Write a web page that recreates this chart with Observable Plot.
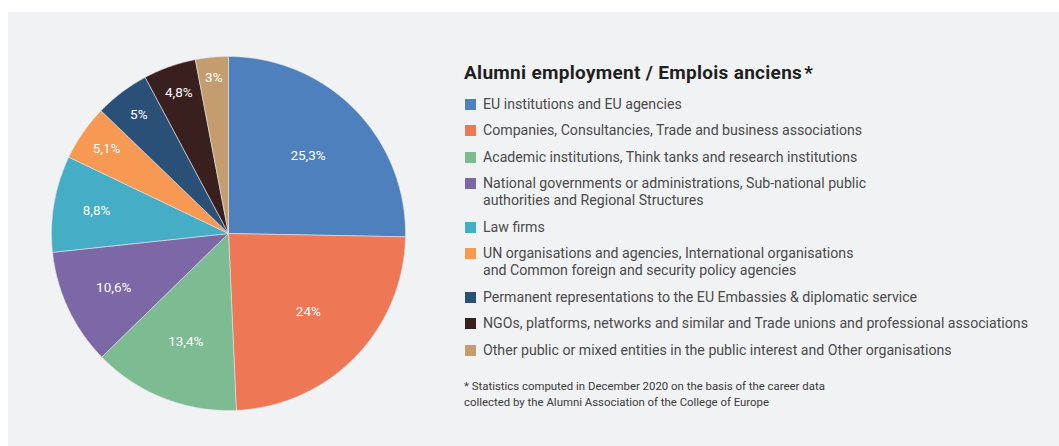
<!DOCTYPE html>
<html>
<head>
<meta charset="utf-8">
<script src="https://cdn.jsdelivr.net/npm/d3@7"></script>
<script src="https://cdn.jsdelivr.net/npm/@observablehq/plot@0.6"></script>
<style>
  html, body { margin: 0; padding: 0; background: #ffffff; }
  body { width: 1059px; height: 446px; position: relative; overflow: hidden; font-family: Roboto, "Noto Sans", sans-serif; }
  #panel { position: absolute; left: 8px; top: 12px; width: 1051px; height: 434px; background: #f1f2f4; }
  #chart { position: absolute; left: 0; top: 0; }
  #legend { position: absolute; left: 456px; top: 50px; width: 595px; }
  #legend h2 { margin: 0; font-size: 19px; letter-spacing: 0.3px; line-height: 22px; font-weight: 700; color: #1f1f1f; white-space: nowrap; }
  #legend h2 .star { margin-left: 2px; }
  .item { position: relative; padding-left: 19px; margin: 0 0 9.5px 0; font-size: 14.15px; line-height: 17px; color: #4a4a4a; white-space: pre; }
  .item:first-of-type { margin-top: 11.5px; }
  .sw { position: absolute; left: 1px; top: 3px; width: 11px; height: 11px; }
  .note { margin-top: 19px; font-size: 11.4px; line-height: 16px; color: #3a3a3a; white-space: pre; }
</style>
</head>
<body>
<div id="panel">
  <div id="chart"></div>
  <div id="legend"></div>
</div>
<script>
// ---- data ----
const categories = [
  "EU institutions and EU agencies",
  "Companies, Consultancies, Trade and business associations",
  "Academic institutions, Think tanks and research institutions",
  "National governments or administrations, Sub-national public\nauthorities and Regional Structures",
  "Law firms",
  "UN organisations and agencies, International organisations\nand Common foreign and security policy agencies",
  "Permanent representations to the EU Embassies & diplomatic service",
  "NGOs, platforms, networks and similar and Trade unions and professional associations",
  "Other public or mixed entities in the public interest and Other organisations"
];
const values = [25.3, 24, 13.4, 10.6, 8.8, 5.1, 5, 4.8, 3];
const valueLabels = ["25,3%", "24%", "13,4%", "10,6%", "8,8%", "5,1%", "5%", "4,8%", "3%"];
const colors = ["#4e80bd", "#ee7856", "#7dbb93", "#7c68a6", "#45adc5", "#f79853", "#2a5078", "#3a1f1f", "#c49c6e"];
const titleText = "Alumni employment / Emplois anciens";
const noteText = "* Statistics computed in December 2020 on the basis of the career data\ncollected by the Alumni Association of the College of Europe";

// ---- geometry via d3.pie ----
const R = 177;
const arcs = d3.pie().sort(null).value(d => d)(values);
const slicePts = [];
arcs.forEach((a, i) => {
  const steps = Math.max(2, Math.ceil((a.endAngle - a.startAngle) / 0.005));
  slicePts.push({k: i, x: 0, y: 0});
  for (let s = 0; s <= steps; s++) {
    const t = a.startAngle + (a.endAngle - a.startAngle) * s / steps;
    slicePts.push({k: i, x: R * Math.sin(t), y: -R * Math.cos(t)});
  }
  slicePts.push({k: i, x: 0, y: 0});
});
const labelPts = arcs.map((a, i) => {
  const mid = (a.startAngle + a.endAngle) / 2;
  const f = values[i] / 100;
  const rr = R * Math.max(0.63, 0.95 - 2.2 * f);
  return {k: i, x: rr * Math.sin(mid), y: -rr * Math.cos(mid), label: valueLabels[i]};
});

const W = 440, H = 434;
const plot = Plot.plot({
  width: W, height: H,
  margin: 0,
  style: {background: "transparent", fontFamily: "Roboto, sans-serif"},
  x: {domain: [-220, 220], range: [0, W], axis: null},
  y: {domain: [-221, 213], range: [0, H], axis: null},
  color: {domain: d3.range(categories.length), range: colors},
  marks: [
    Plot.line(slicePts, {x: "x", y: "y", z: "k", fill: "k", stroke: "#e4e6ea", strokeWidth: 0.6, strokeLinejoin: "round"}),
    Plot.text(labelPts, {x: "x", y: "y", text: "label", fill: "white", fontSize: 13.5, fontWeight: 400})
  ]
});
document.getElementById("chart").appendChild(plot);

// ---- legend ----
const lg = document.getElementById("legend");
const h = document.createElement("h2");
h.innerHTML = titleText + '<span class="star">*</span>';
lg.appendChild(h);
categories.forEach((c, i) => {
  const d = document.createElement("div");
  d.className = "item";
  const sw = document.createElement("span");
  sw.className = "sw";
  sw.style.background = colors[i];
  d.appendChild(sw);
  d.appendChild(document.createTextNode(c));
  lg.appendChild(d);
});
const n = document.createElement("div");
n.className = "note";
n.textContent = noteText;
lg.appendChild(n);
</script>
</body>
</html>
